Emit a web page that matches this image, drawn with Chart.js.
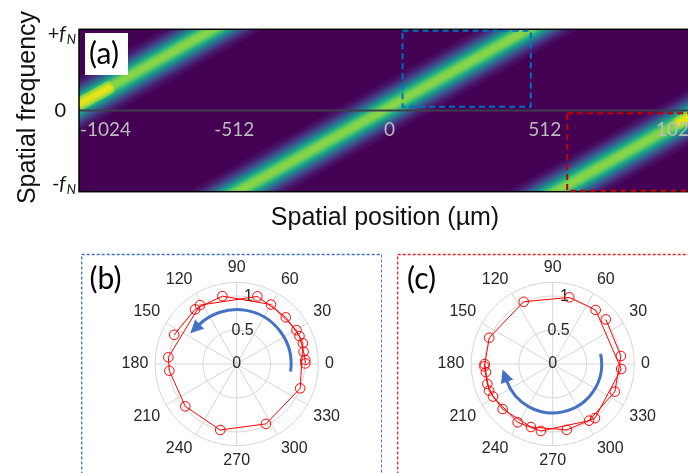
<!DOCTYPE html>
<html><head><meta charset="utf-8">
<script src="https://cdn.jsdelivr.net/npm/chart.js@4.4.0/dist/chart.umd.min.js"></script>
<style>
html,body{margin:0;padding:0;background:#fff;width:688px;height:473px;overflow:hidden}
body{position:relative}
canvas{position:absolute;display:block}
#ca{left:0;top:0}
#cb{left:81px;top:253px}
#cc{left:397px;top:253px}
</style></head><body>
<canvas id="ca" width="701" height="240"></canvas>
<canvas id="cb" width="301" height="220"></canvas>
<canvas id="cc" width="301" height="220"></canvas>
<script>
// ================= DATA =================
// (a) bright ridges of the local spatial-frequency map, traced past both edges of the
//     frequency window (position in µm, frequency in units of fN)
const ridgeStartUm = [-1683, -644, 405];
const ridgeEndUm   = [-438, 601, 1650];
const ridgeStartF  = [-1.3, -1.3, -1.3];
const ridgeEndF    = [1.3, 1.3, 1.3];
// (a) brighter stretches of the ridges at the edges of the field
const hotStartUm = [-1018, 955];
const hotEndUm   = [-925, 1030];
const hotStartF  = [0.09, -0.15];
const hotEndF    = [0.28, 0.005];
// (a) axis
const xTickValues = [-1024, -512, 0, 512, 1024];
const xTickLabels = ['-1024', '-512', '0', '512', '1024'];
const yTickValues = [1, 0, -1];
const yTickSigns  = ['+', '', '-'];
// (a) regions analysed in (b) and (c): µm and fN units
const roiX0 = [43, 586];
const roiX1 = [466, 1100];
const roiF0 = [0.047, -0.988];
const roiF1 = [0.983, -0.034];
// (b) polar plot: angle (deg) and normalised amplitude, in measurement order
const thetaB = [0.5, 3.4, 10.5, 24, 43.6, 73, 121.9, 174.4, 185.7, 219.5, 256, 296, 339, 17.4, 29.5, 60, 101.9, 127.3, 155];
const rB     = [1.01, 1.01, 1.0, 1.01, 0.995, 1.04, 1.02, 1.01, 0.995, 0.98, 1.0, 0.98, 1.0, 1.02, 1.01, 1.01, 1.02, 1.01, 1.015];
// (c) polar plot
const thetaC = [40, 6.7, 336, 302.7, 260, 239, 208.6, 197, 182, 157.5, 115, 76, 51.5, 355.8, 308, 282, 251, 222, 202.7, 187, 180];
const rC     = [1.02, 1.01, 1.0, 0.99, 1.0, 1.0, 1.0, 1.005, 1.005, 1.01, 1.01, 1.01, 1.015, 1.01, 1.01, 0.99, 0.98, 0.99, 1.015, 0.99, 1.0];
// polar axes
const angleTicks  = [0, 30, 60, 90, 120, 150, 180, 210, 240, 270, 300, 330];
const radialTicks = [0, 0.5, 1];
const rMax = 1.2;

// ================= STYLE =================
const viridisStops = ['#440154','#471365','#482475','#463480','#414487','#3b528b','#355f8d','#2f6c8e','#2a788e','#25848e','#21918c','#1e9c89','#22a884','#2fb47c','#44bf70','#5ec962','#7ad151','#9bd93c','#bddf26','#dfe318','#fde725'];
function hexRgb(h){return [parseInt(h.substr(1,2),16),parseInt(h.substr(3,2),16),parseInt(h.substr(5,2),16)];}
function viridis(t){
  t=Math.max(0,Math.min(1,t)); const s=t*20; const i=Math.min(19,Math.floor(s)); const f=s-i;
  const a=hexRgb(viridisStops[i]), b=hexRgb(viridisStops[i+1]);
  return 'rgb('+a.map((v,k)=>Math.round(v+(b[k]-v)*f)).join(',')+')';
}
const RIDGE_SIGMA = 9.5, RIDGE_PEAK = 0.85, RIDGE_STEPS = 26;
const ridgeLayers = [];
for (let k = 0; k < RIDGE_STEPS; k++) {
  const L = 0.03 + (RIDGE_PEAK - 0.03) * k / RIDGE_STEPS;
  ridgeLayers.push({w: 2*RIDGE_SIGMA*Math.sqrt(2*Math.log(RIDGE_PEAK/L)), c: viridis(L)});
}
const hotLayers = [{w:13, c:viridis(0.82)}, {w:9, c:viridis(0.9)}, {w:5, c:viridis(0.96)}];

// ================= PANEL (a) =================
const datasetsA = [];
ridgeLayers.forEach((layer, k) => {
  ridgeStartUm.forEach((_, i) => {
    datasetsA.push({
      data: [{x: ridgeStartUm[i], y: ridgeStartF[i]}, {x: ridgeEndUm[i], y: ridgeEndF[i]}],
      showLine: true, borderColor: layer.c, borderWidth: layer.w, borderCapStyle: 'butt',
      pointRadius: 0, clip: 0, order: 100 - k
    });
  });
});
hotLayers.forEach((layer, k) => {
  hotStartUm.forEach((_, i) => {
    datasetsA.push({
      data: [{x: hotStartUm[i], y: hotStartF[i]}, {x: hotEndUm[i], y: hotEndF[i]}],
      showLine: true, borderColor: layer.c, borderWidth: layer.w, borderCapStyle: 'round',
      pointRadius: 0, clip: 0, order: 10 - k
    });
  });
});

const mapDecor = {
  id: 'mapDecor',
  beforeDatasetsDraw(chart) {
    const {ctx, chartArea: a} = chart;
    ctx.save(); ctx.fillStyle = viridis(0);
    ctx.fillRect(a.left, a.top, a.right - a.left, a.bottom - a.top); ctx.restore();
  },
  afterDatasetsDraw(chart) {
    const {ctx, chartArea: a, scales: {x, y}} = chart;
    ctx.save();
    const y0 = y.getPixelForValue(0);
    ctx.strokeStyle = '#3e3e4e'; ctx.lineWidth = 2;
    ctx.beginPath(); ctx.moveTo(a.left, y0); ctx.lineTo(a.right, y0); ctx.stroke();
    ctx.strokeStyle = '#000'; ctx.lineWidth = 1.5;
    ctx.strokeRect(a.left, a.top, a.right - a.left, a.bottom - a.top);
    // x tick labels (inside the map)
    ctx.font = '19px Lato'; ctx.fillStyle = '#bcbcbc'; ctx.textBaseline = 'middle';
    xTickValues.forEach((v, i) => {
      const px = x.getPixelForValue(v);
      ctx.textAlign = i === 0 ? 'left' : (i === xTickValues.length - 1 ? 'right' : 'center');
      ctx.fillText(xTickLabels[i], px + (i === 0 ? 1 : 0), y0 + 19);
    });
    // ROI boxes
    const roiColors = ['#0070c0', '#c00000'];
    ctx.setLineDash([6, 4]); ctx.lineWidth = 2;
    roiX0.forEach((_, i) => {
      const l = x.getPixelForValue(roiX0[i]), r = x.getPixelForValue(roiX1[i]);
      const t = y.getPixelForValue(roiF1[i]), b = y.getPixelForValue(roiF0[i]);
      ctx.strokeStyle = roiColors[i]; ctx.strokeRect(l, t, r - l, b - t);
    });
    ctx.setLineDash([]);
    // panel letter
    ctx.fillStyle = '#fff'; ctx.fillRect(85, 33, 43, 42);
    ctx.fillStyle = '#000'; ctx.font = '30px Lato'; ctx.textAlign = 'center'; ctx.textBaseline = 'middle';
    ctx.fillText('(a)', 104, 54);
    ctx.restore();
  },
  afterDraw(chart) {
    const {ctx, scales: {y}} = chart;
    ctx.save();
    ctx.fillStyle = '#111';
    // y tick labels  (+fN, 0, -fN)
    yTickValues.forEach((v, i) => {
      const py = y.getPixelForValue(v);
      if (v === 0) {
        ctx.font = '20px Lato'; ctx.textAlign = 'right'; ctx.textBaseline = 'middle';
        ctx.fillText('0', 66, py); return;
      }
      const base = v > 0 ? py + 10.5 : py - 2;
      ctx.textAlign = 'left'; ctx.textBaseline = 'alphabetic';
      ctx.font = '20px Lato'; const ws = ctx.measureText(yTickSigns[i]).width;
      ctx.font = 'italic 20px Lato'; const wf = ctx.measureText('f').width;
      ctx.font = 'italic 13px Lato'; const wn = ctx.measureText('N').width;
      let sx = 76 - ws - wf - wn - 1;
      ctx.font = '20px Lato'; ctx.fillText(yTickSigns[i], sx, base); sx += ws;
      ctx.font = 'italic 20px Lato'; ctx.fillText('f', sx, base); sx += wf + 1;
      ctx.font = 'italic 13px Lato'; ctx.fillText('N', sx, base + 4);
    });
    // axis titles
    ctx.font = '25px "Liberation Sans"'; ctx.textAlign = 'center'; ctx.textBaseline = 'alphabetic';
    ctx.fillText('Spatial position (\u00b5m)', 385, 224.5);
    ctx.translate(35, 107.5); ctx.rotate(-Math.PI / 2);
    ctx.fillText('Spatial frequency', 0, 0);
    ctx.restore();
  }
};

new Chart(document.getElementById('ca'), {
  type: 'scatter',
  data: {datasets: datasetsA},
  options: {
    responsive: false, animation: false, events: [],
    layout: {padding: {left: 79, right: 1, top: 29.3, bottom: 240 - 191.7}},
    plugins: {legend: {display: false}, tooltip: {enabled: false}},
    scales: {
      x: {type: 'linear', min: xTickValues[0], max: xTickValues[xTickValues.length - 1], display: false},
      y: {type: 'linear', min: yTickValues[2], max: yTickValues[0], display: false}
    }
  },
  plugins: [mapDecor]
});

// ================= PANELS (b), (c) =================
function polarXY(th, r) {
  return th.map((t, i) => ({x: r[i] * Math.cos(t * Math.PI / 180), y: r[i] * Math.sin(t * Math.PI / 180)}));
}
function polarDecor(opts) {
  return {
    id: 'polarDecor',
    beforeDatasetsDraw(chart) {
      const {ctx, scales: {x, y}} = chart;
      const cx = x.getPixelForValue(0), cy = y.getPixelForValue(0), u = x.getPixelForValue(1) - cx;
      ctx.save();
      ctx.strokeStyle = '#d6d6d6'; ctx.lineWidth = 1;
      radialTicks.filter(r => r > 0).concat([rMax]).forEach(r => {
        ctx.beginPath(); ctx.arc(cx, cy, r * u, 0, 2 * Math.PI); ctx.stroke();
      });
      angleTicks.forEach(a => {
        const t = a * Math.PI / 180;
        ctx.beginPath(); ctx.moveTo(cx, cy);
        ctx.lineTo(cx + rMax * u * Math.cos(t), cy - rMax * u * Math.sin(t)); ctx.stroke();
      });
      ctx.fillStyle = '#262626'; ctx.font = '16px "Liberation Sans"';
      const rl = (rMax + 0.1) * u;
      angleTicks.forEach(a => {
        const t = a * Math.PI / 180, c = Math.cos(t), s = Math.sin(t);
        ctx.textAlign = c > 0.3 ? 'left' : (c < -0.3 ? 'right' : 'center');
        ctx.textBaseline = s > 0.3 ? 'bottom' : (s < -0.3 ? 'top' : 'middle');
        ctx.fillText(String(a), cx + rl * c, cy - rl * s);
      });
      const ra = 80 * Math.PI / 180;
      ctx.textAlign = 'center'; ctx.textBaseline = 'middle';
      radialTicks.forEach(r => ctx.fillText(String(r), cx + r * u * Math.cos(ra), cy - r * u * Math.sin(ra)));
      ctx.restore();
    },
    afterDatasetsDraw(chart) {
      const {ctx, scales: {x, y}} = chart;
      const cx = x.getPixelForValue(0), cy = y.getPixelForValue(0), u = x.getPixelForValue(1) - cx;
      ctx.save();
      // rotation arrow
      const R = opts.arrowR * u, a0 = opts.arrowFrom * Math.PI / 180, a1 = opts.arrowTo * Math.PI / 180;
      const ccw = a1 > a0;
      ctx.strokeStyle = '#4472c4'; ctx.fillStyle = '#4472c4'; ctx.lineWidth = 3;
      ctx.beginPath(); ctx.arc(cx, cy, R, -a0, -a1, ccw); ctx.stroke();
      const ex = cx + R * Math.cos(a1), ey = cy - R * Math.sin(a1);
      let dx = ccw ? -Math.sin(a1) : Math.sin(a1), dy = ccw ? -Math.cos(a1) : Math.cos(a1);
      const nx = -dy, ny = dx;
      ctx.beginPath();
      ctx.moveTo(ex + dx * 12, ey + dy * 12);
      ctx.lineTo(ex + nx * 6.5 - dx * 1, ey + ny * 6.5 - dy * 1);
      ctx.lineTo(ex - nx * 6.5 - dx * 1, ey - ny * 6.5 - dy * 1);
      ctx.closePath(); ctx.fill();
      // panel frame
      ctx.setLineDash([3, 2]); ctx.lineWidth = 1.3; ctx.strokeStyle = opts.frame;
      ctx.strokeRect(0.7, 1.5, opts.frameW, 300);
      ctx.setLineDash([]);
      ctx.fillStyle = '#000'; ctx.font = '30px Lato'; ctx.textAlign = 'center'; ctx.textBaseline = 'middle';
      ctx.fillText(opts.letter, 24.5, 26);
      ctx.restore();
    }
  };
}
function polarChart(id, th, r, opts) {
  new Chart(document.getElementById(id), {
    type: 'scatter',
    data: {datasets: [{
      data: polarXY(th, r), showLine: true, borderColor: '#ff0000', borderWidth: 1,
      pointRadius: 4.8, pointBorderColor: '#ff0000', pointBackgroundColor: 'rgba(0,0,0,0)',
      pointBorderWidth: 1, clip: false
    }]},
    options: {
      responsive: false, animation: false, events: [],
      layout: {padding: {left: 53.7, right: 43.3, top: 9, bottom: 7}},
      plugins: {legend: {display: false}, tooltip: {enabled: false}},
      scales: {x: {type: 'linear', min: -1.5, max: 1.5, display: false},
               y: {type: 'linear', min: -1.5, max: 1.5, display: false}}
    },
    plugins: [polarDecor(opts)]
  });
}
polarChart('cb', thetaB, rB, {letter: '(b)', frame: '#3f6fc6', frameW: 300, arrowR: 0.8, arrowFrom: -8, arrowTo: 134});
polarChart('cc', thetaC, rC, {letter: '(c)', frame: '#f02020', frameW: 400, arrowR: 0.72, arrowFrom: 12, arrowTo: -160});
</script>
</body></html>
